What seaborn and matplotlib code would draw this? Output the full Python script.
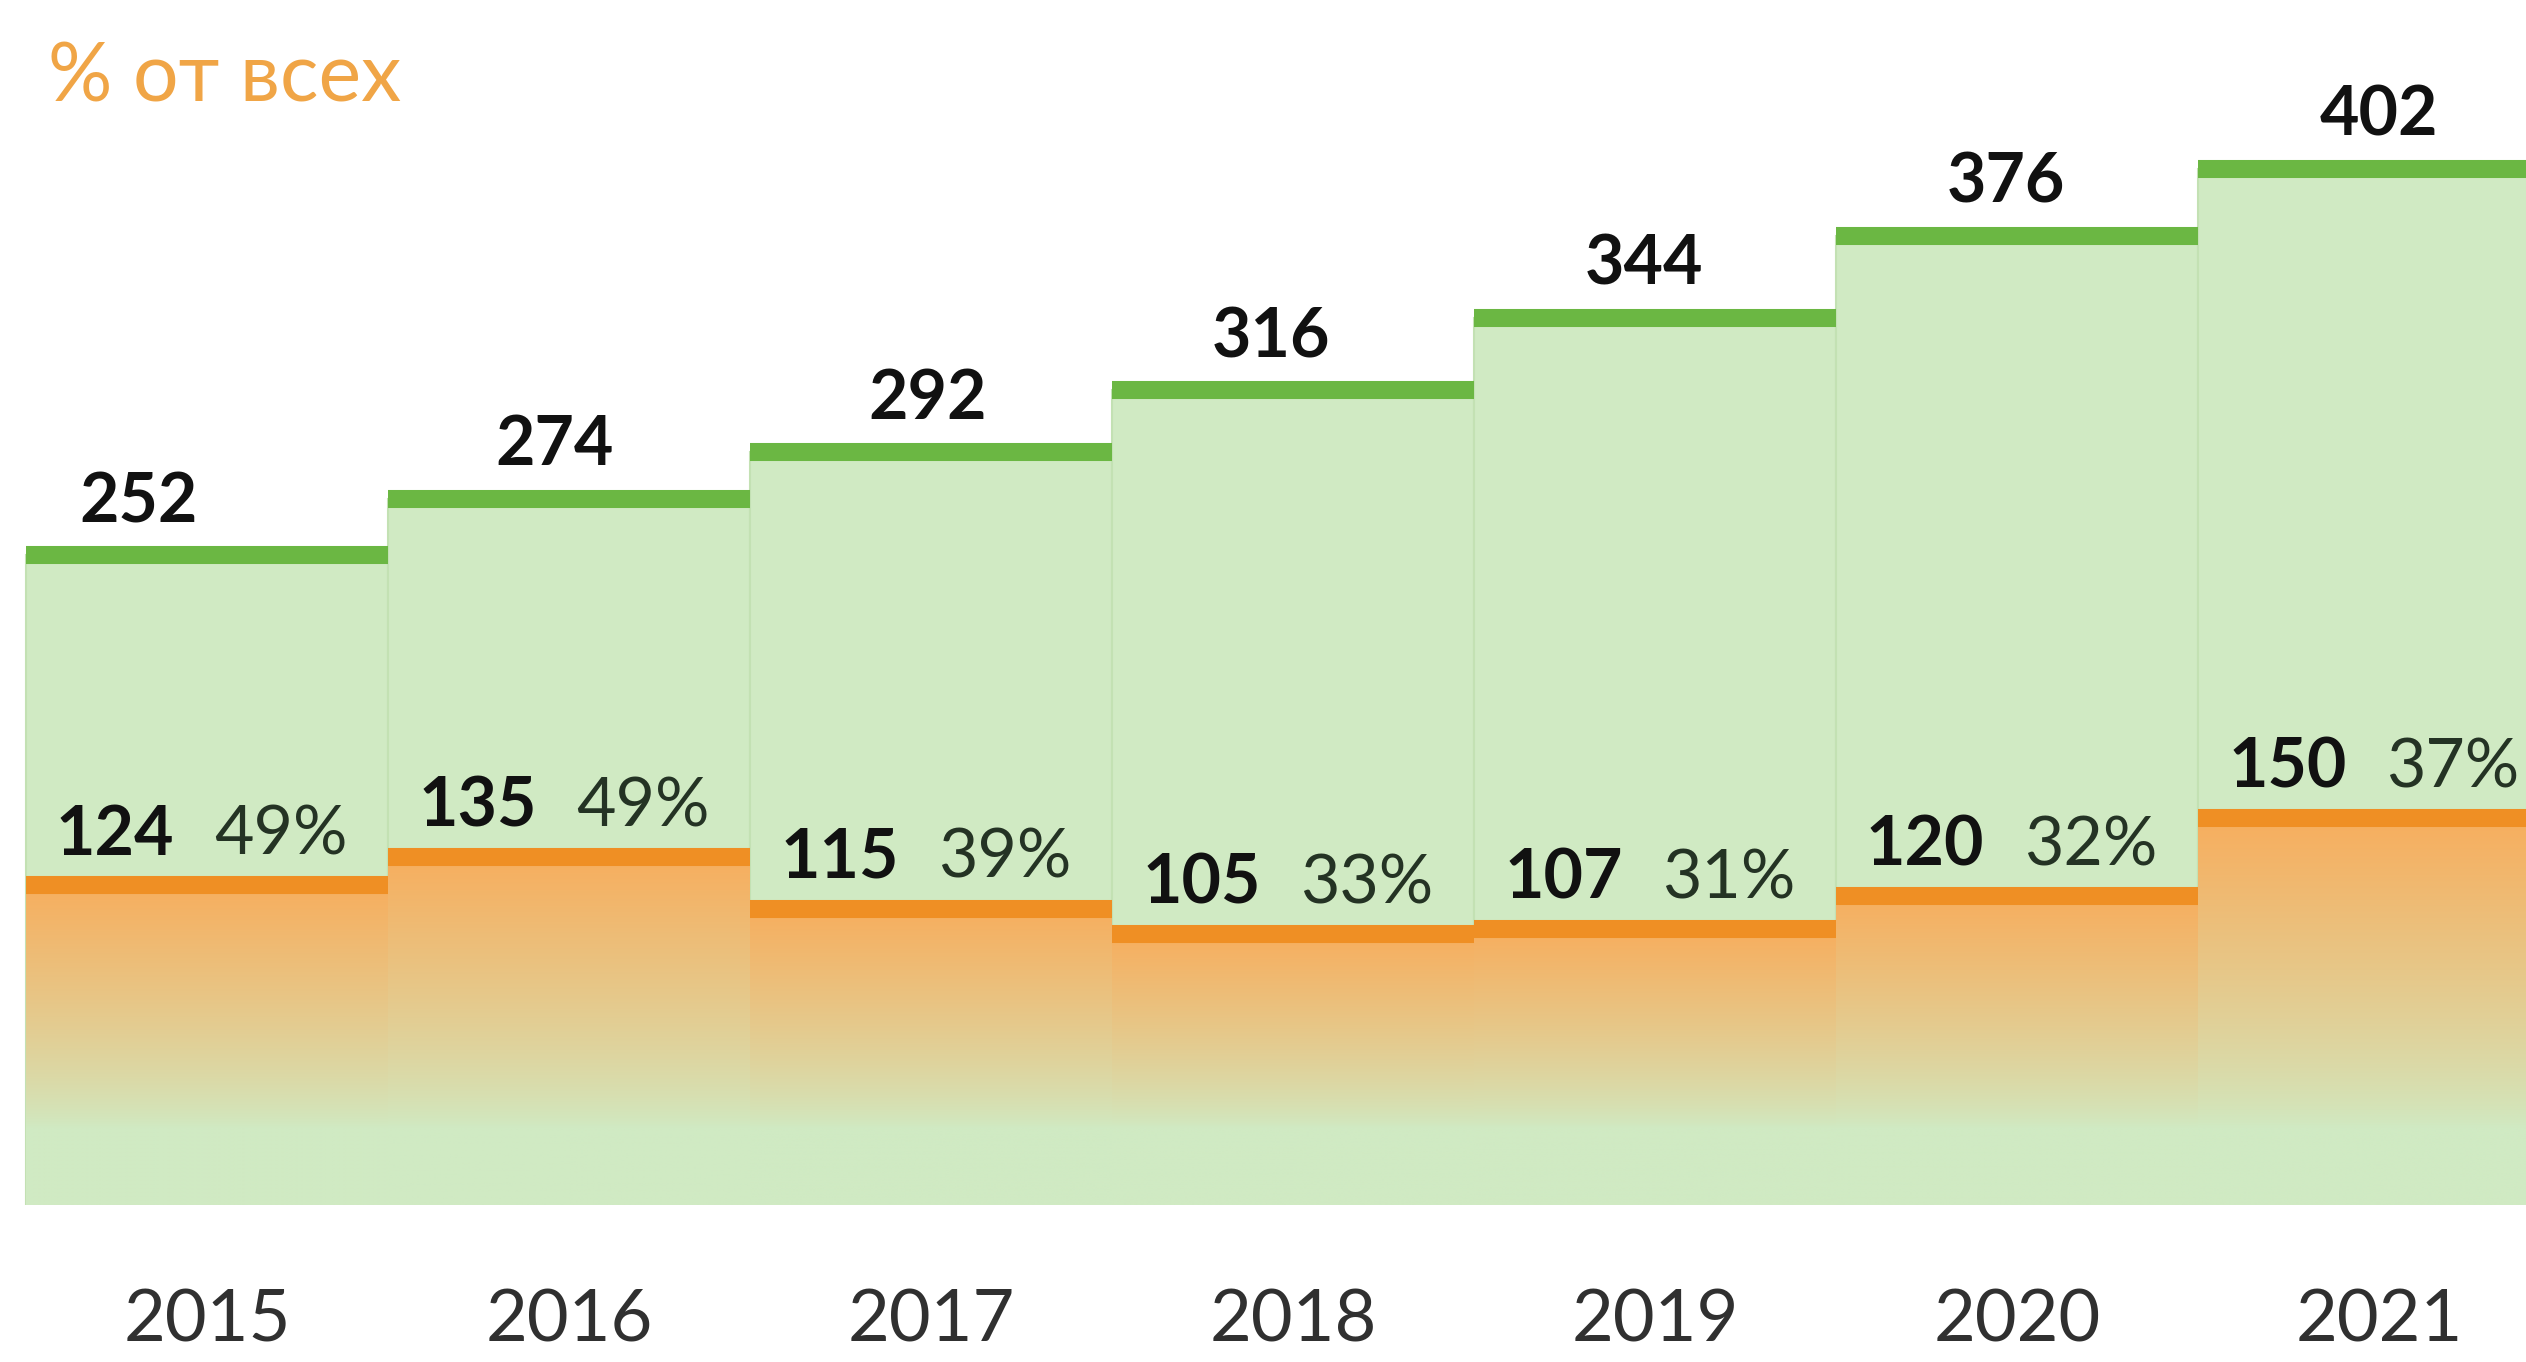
import numpy as np
import pandas as pd
import matplotlib
matplotlib.use("Agg")
import matplotlib.pyplot as plt
import seaborn as sns
from matplotlib.colors import to_rgb

# ---------------- data ----------------
years = ["2015", "2016", "2017", "2018", "2019", "2020", "2021"]
totals = [252, 274, 292, 316, 344, 376, 402]
subset = [124, 135, 115, 105, 107, 120, 150]
shares = ["49%", "49%", "39%", "33%", "31%", "32%", "37%"]
subtitle = "% от всех"

# ---------------- style ----------------
GREEN_FILL = "#D0EAC3"
GREEN_EDGE = "#C3E1B3"
GREEN_LINE = "#6BB743"
ORANGE_LINE = "#EF8F24"
ORANGE_TOP = "#F7AE5E"
VALUE_COLOR = "#111111"
SHARE_COLOR = "#243324"
YEAR_COLOR = "#303030"
SUB_COLOR = "#F0A546"

sns.set_theme(style="white")
plt.rcParams["font.family"] = ["Lato", "Open Sans", "DejaVu Sans"]

W, H = 2526, 1362
fig = plt.figure(figsize=(W / 100, H / 100), dpi=100)
fig.patch.set_facecolor("white")
base_px = 1205          # pixel row of the zero line (from top)
px_per_unit = 2.578
ax = fig.add_axes([0, (H - base_px) / H, 1, base_px / H])

df = pd.DataFrame({"year": years, "total": totals, "subset": subset})

sns.barplot(data=df, x="year", y="total", color=GREEN_FILL, saturation=1,
            width=1.0, errorbar=None, ax=ax, edgecolor=GREEN_EDGE,
            linewidth=1.5, zorder=1)
green_patches = list(ax.patches)
sns.barplot(data=df, x="year", y="subset", color=ORANGE_TOP, saturation=1,
            width=1.0, errorbar=None, ax=ax, linewidth=0, zorder=2)
orange_patches = [p for p in ax.patches if p not in green_patches]

# gradient fill of the orange bars (orange at top fading into the green)
fade_end = 30.0
g = np.array(to_rgb(GREEN_FILL))
o = np.array(to_rgb(ORANGE_TOP))
for p in orange_patches:
    x0, w, h = p.get_x(), p.get_width(), p.get_height()
    p.set_facecolor((0, 0, 0, 0))
    ys = np.linspace(0, h, 400)
    t = np.clip((ys - fade_end) / (h - fade_end), 0, 1) ** 0.8
    img = (g[None, :] + t[:, None] * (o - g)[None, :])[:, None, :]
    ax.imshow(img, extent=(x0, x0 + w, 0, h), origin="lower",
              aspect="auto", interpolation="bilinear", zorder=2)

# thick top lines
for p in green_patches:
    ax.hlines(p.get_height(), p.get_x(), p.get_x() + p.get_width(),
              color=GREEN_LINE, lw=13, capstyle="butt", zorder=3)
for p in orange_patches:
    ax.hlines(p.get_height(), p.get_x(), p.get_x() + p.get_width(),
              color=ORANGE_LINE, lw=13, capstyle="butt", zorder=3)

# labels
total_nudge = [-0.19, -0.04, -0.01, -0.06, -0.03, -0.03, 0.0]
for i, p in enumerate(green_patches):
    cx = p.get_x() + p.get_width() / 2
    ax.annotate(f"{totals[i]}", (cx + total_nudge[i], totals[i]),
                xytext=(0, 24), textcoords="offset points", ha="center",
                va="baseline", fontsize=49, fontweight="bold",
                color=VALUE_COLOR, zorder=5)
for i, p in enumerate(orange_patches):
    cx = p.get_x() + p.get_width() / 2
    ax.annotate(f"{subset[i]}", (cx - 0.09, subset[i]),
                xytext=(0, 22), textcoords="offset points", ha="right",
                va="baseline", fontsize=49, fontweight="bold",
                color=VALUE_COLOR, zorder=5)
    ax.annotate(shares[i], (cx + 0.02, subset[i]),
                xytext=(0, 22), textcoords="offset points", ha="left",
                va="baseline", fontsize=49, fontweight="normal",
                color=SHARE_COLOR, zorder=5)

# axes cosmetics
ax.set_ylim(0, base_px / px_per_unit)
ax.set_xlim(-0.572, -0.572 + W / 362)
ax.set_xticks(range(len(years)))
ax.set_xticklabels(years)
ax.tick_params(axis="x", length=0, pad=98, labelsize=52, labelcolor=YEAR_COLOR)
for lab in ax.get_xticklabels():
    lab.set_verticalalignment("baseline")
ax.set_yticks([])
ax.set_xlabel("")
ax.set_ylabel("")
sns.despine(ax=ax, left=True, bottom=True)
ax.set_facecolor("white")

fig.text(48 / W, 1 - 101 / H, subtitle, fontsize=58, color=SUB_COLOR,
         ha="left", va="baseline",
         family=["Lato", "Open Sans", "DejaVu Sans"])

fig.savefig("out.png", dpi=100, facecolor="white")
